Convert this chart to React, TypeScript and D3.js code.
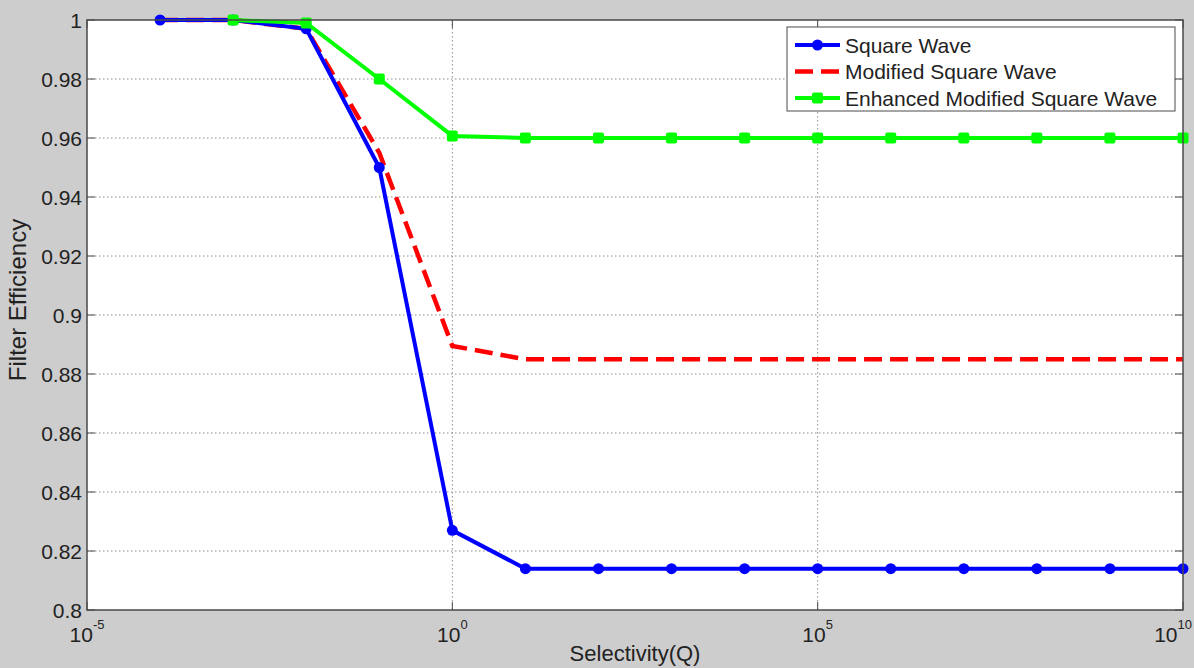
import React from "react";
import * as d3 from "d3";

// selectivity values (one point per decade)
const qValues = [1e-4, 1e-3, 1e-2, 1e-1, 1e0, 1e1, 1e2, 1e3, 1e4, 1e5, 1e6, 1e7, 1e8, 1e9, 1e10];

const squareWave = [1.0, 1.0, 0.997, 0.95, 0.827, 0.814, 0.814, 0.814, 0.814, 0.814, 0.814, 0.814, 0.814, 0.814, 0.814];
const modifiedSquareWave = [1.0, 1.0, 0.997, 0.955, 0.8895, 0.885, 0.885, 0.885, 0.885, 0.885, 0.885, 0.885, 0.885, 0.885, 0.885];
const enhancedSquareWave = [null, 1.0, 0.999, 0.98, 0.9607, 0.96, 0.96, 0.96, 0.96, 0.96, 0.96, 0.96, 0.96, 0.96, 0.96];

const xTickExponents = [-5, 0, 5, 10];
const yTicks = [0.8, 0.82, 0.84, 0.86, 0.88, 0.9, 0.92, 0.94, 0.96, 0.98, 1];

const seriesNames = ["Square Wave", "Modified Square Wave", "Enhanced Modified Square Wave"];

const W = 1194;
const H = 668;
const plot = { left: 87, right: 1183, top: 20, bottom: 610 };
const FONT = "'Liberation Sans', Arial, sans-serif";

export default function App() {
  const x = d3.scaleLog().domain([1e-5, 1e10]).range([plot.left, plot.right]);
  const y = d3.scaleLinear().domain([0.8, 1]).range([plot.bottom, plot.top]);

  const line = d3
    .line<[number, number | null]>()
    .defined((d) => d[1] != null)
    .x((d) => x(d[0]))
    .y((d) => y(d[1] as number));

  const pts = (vals: (number | null)[]) => qValues.map((q, i) => [q, vals[i]] as [number, number | null]);

  const blue = "#0000ff";
  const red = "#ff0000";
  const green = "#00ff00";
  const axisColor = "#4a4a4a";
  const gridColor = "#8c8c8c";

  const legendX = 787;
  const legendY = 27;

  return (
    <svg width={W} height={H} style={{ position: "absolute", left: 0, top: 0 }} fontFamily={FONT}>
      <rect x={0} y={0} width={W} height={H} fill="#cdcdcd" />
      <rect x={plot.left} y={plot.top} width={plot.right - plot.left} height={plot.bottom - plot.top} fill="#ffffff" />

      {/* grid */}
      {yTicks.slice(1, -1).map((t) => (
        <line key={"gy" + t} x1={plot.left} x2={plot.right} y1={y(t)} y2={y(t)} stroke={gridColor} strokeWidth={1} strokeDasharray="1.5,2.5" />
      ))}
      {xTickExponents.slice(1, -1).map((e) => (
        <line key={"gx" + e} x1={x(Math.pow(10, e))} x2={x(Math.pow(10, e))} y1={plot.top} y2={plot.bottom} stroke={gridColor} strokeWidth={1} strokeDasharray="1.5,2.5" />
      ))}

      {/* ticks */}
      {yTicks.map((t) => (
        <g key={"ty" + t}>
          <line x1={plot.left} x2={plot.left + 8} y1={y(t)} y2={y(t)} stroke={axisColor} strokeWidth={1} />
          <line x1={plot.right} x2={plot.right - 8} y1={y(t)} y2={y(t)} stroke={axisColor} strokeWidth={1} />
          <text x={82} y={y(t)} dy="0.36em" textAnchor="end" fontSize={21} fill="#222">
            {String(+t.toFixed(2))}
          </text>
        </g>
      ))}
      {xTickExponents.map((e, i) => {
        const px = x(Math.pow(10, e));
        const last = i === xTickExponents.length - 1;
        return (
          <g key={"tx" + e}>
            <line x1={px} x2={px} y1={plot.bottom} y2={plot.bottom - 8} stroke={axisColor} strokeWidth={1} />
            <line x1={px} x2={px} y1={plot.top} y2={plot.top + 8} stroke={axisColor} strokeWidth={1} />
            <text x={last ? W - 2 : px} y={642} textAnchor={last ? "end" : "middle"} fontSize={21} fill="#222">
              <tspan>10</tspan>
              <tspan dy={-13} fontSize={13}>{e}</tspan>
            </text>
          </g>
        );
      })}

      {/* series */}
      <path d={line(pts(modifiedSquareWave)) || ""} fill="none" stroke={red} strokeWidth={4.5} strokeDasharray="18,8" />
      <path d={line(pts(squareWave)) || ""} fill="none" stroke={blue} strokeWidth={4} />
      {pts(squareWave).map((d, i) => (
        <circle key={"b" + i} cx={x(d[0])} cy={y(d[1] as number)} r={5.5} fill={blue} />
      ))}
      <path d={line(pts(enhancedSquareWave)) || ""} fill="none" stroke={green} strokeWidth={4} />
      {pts(enhancedSquareWave)
        .filter((d) => d[1] != null)
        .map((d, i) => (
          <rect key={"g" + i} x={x(d[0]) - 5.5} y={y(d[1] as number) - 5.5} width={11} height={11} rx={2} fill={green} />
        ))}

      {/* axes box */}
      <rect x={plot.left} y={plot.top} width={plot.right - plot.left} height={plot.bottom - plot.top} fill="none" stroke={axisColor} strokeWidth={1.5} />

      {/* legend */}
      <rect x={legendX} y={legendY} width={388} height={84} fill="#ffffff" stroke={axisColor} strokeWidth={1} />
      {seriesNames.map((name, i) => {
        const cy = 45 + i * 26.5;
        const color = [blue, red, green][i];
        return (
          <g key={name}>
            {i === 1 ? (
              <line x1={795} x2={840} y1={cy} y2={cy} stroke={color} strokeWidth={4.5} strokeDasharray="18,8" />
            ) : (
              <line x1={795} x2={840} y1={cy} y2={cy} stroke={color} strokeWidth={4} />
            )}
            {i === 0 && <circle cx={817.5} cy={cy} r={5.5} fill={color} />}
            {i === 2 && <rect x={812} y={cy - 5.5} width={11} height={11} rx={2} fill={color} />}
            <text x={845} y={cy} dy="0.36em" fontSize={21} fill="#222">
              {name}
            </text>
          </g>
        );
      })}

      {/* axis labels */}
      <text x={(plot.left + plot.right) / 2} y={661} textAnchor="middle" fontSize={22} fill="#222">
        Selectivity(Q)
      </text>
      <text transform="translate(26,300) rotate(-90)" textAnchor="middle" fontSize={24} fill="#222">
        Filter Efficiency
      </text>
    </svg>
  );
}
